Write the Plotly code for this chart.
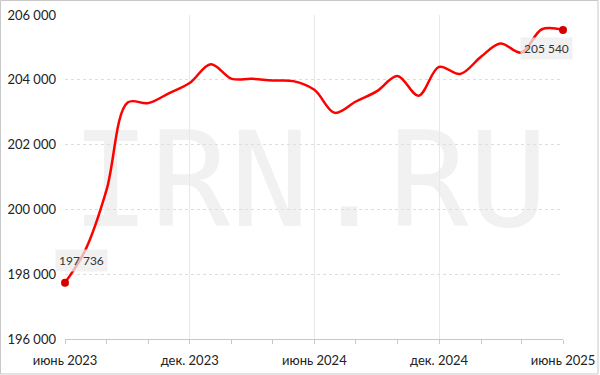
import plotly.graph_objects as go

months = ["2023-06-01", "2023-07-01", "2023-08-01", "2023-09-01", "2023-10-01", "2023-11-01",
          "2023-12-01", "2024-01-01", "2024-02-01", "2024-03-01", "2024-04-01", "2024-05-01",
          "2024-06-01", "2024-07-01", "2024-08-01", "2024-09-01", "2024-10-01", "2024-11-01",
          "2024-12-01", "2025-01-01", "2025-02-01", "2025-03-01", "2025-04-01", "2025-05-01",
          "2025-06-01"]
values = [197736, 198750, 200600, 203300, 203280, 203590,
          203900, 204480, 204030, 204030, 203980, 203960,
          203690, 202980, 203330, 203650, 204120, 203510,
          204400, 204180, 204720, 205120, 204840, 205560,
          205540]
tick_dates = ["2023-06-01", "2023-12-01", "2024-06-01", "2024-12-01", "2025-06-01"]
tick_labels = ["июнь 2023", "дек. 2023", "июнь 2024", "дек. 2024", "июнь 2025"]
y_ticks = [196000, 198000, 200000, 202000, 204000, 206000]
y_labels = ["196 000", "198 000", "200 000", "202 000", "204 000", "206 000"]

W, H = 600, 375
ML, MR, MT, MB = 65, 37, 15, 36
PW, PH = W - ML - MR, H - MT - MB

def px_x(p):
    return (p - ML) / PW

def px_y(p):
    return (H - MB - p) / PH

fig = go.Figure()
fig.add_trace(go.Scatter(
    x=months, y=values, mode="lines",
    line=dict(color="#ff0000", width=2.5, shape="spline", smoothing=1.0),
    hoverinfo="skip", showlegend=False, cliponaxis=False,
))
fig.add_trace(go.Scatter(
    x=[months[0], months[-1]], y=[values[0], values[-1]], mode="markers",
    marker=dict(color="#d40000", size=8),
    hoverinfo="skip", showlegend=False, cliponaxis=False,
))

def fmt(v):
    return f"{v:,}".replace(",", " ")

fig.add_annotation(x=months[0], y=values[0], text=fmt(values[0]), showarrow=False,
                   xanchor="left", yanchor="bottom", xshift=-10, yshift=11,
                   bgcolor="rgba(236,236,236,0.75)", borderpad=3,
                   font=dict(family="Lato", size=12, color="#333333"))
fig.add_annotation(x=months[-1], y=values[-1], text=fmt(values[-1]), showarrow=False,
                   xanchor="right", yanchor="top", xshift=10, yshift=-7,
                   bgcolor="rgba(236,236,236,0.75)", borderpad=3,
                   font=dict(family="Lato", size=12, color="#333333"))

# watermark below gridlines
fig.add_shape(type="rect", xref="paper", yref="paper",
              x0=px_x(57), x1=px_x(562), y0=px_y(246), y1=px_y(96),
              line=dict(width=0), fillcolor="rgba(0,0,0,0)", layer="below",
              label=dict(text="IRN.RU", textposition="middle center",
                         font=dict(family="DejaVu Sans Mono", size=132, color="#f1f1f1")))
# outer frame
fig.add_shape(type="rect", xref="paper", yref="paper",
              x0=px_x(0.5), x1=px_x(598), y0=px_y(374), y1=px_y(0.5),
              line=dict(width=1, color="#c8c8c8"), fillcolor="rgba(0,0,0,0)", layer="above")

fig.update_layout(
    width=W, height=H,
    margin=dict(l=ML, r=MR, t=MT, b=MB, autoexpand=False),
    paper_bgcolor="white", plot_bgcolor="white",
    font=dict(family="Lato", size=13, color="#222222"),
)
fig.update_xaxes(
    type="date", range=[months[0], months[-1]], automargin=False,
    tickvals=tick_dates, ticktext=tick_labels,
    showgrid=True, gridcolor="#e8e8e8", gridwidth=1,
    showline=True, linecolor="#c8c8c8", linewidth=1,
    ticks="outside", ticklen=4, tickcolor="#c8c8c8", zeroline=False,
    ticklabelstandoff=5,
    tickfont=dict(family="Lato", size=13, color="#222222"),
    minor=dict(dtick="M2", tick0="2023-06-01", ticks="outside", ticklen=4,
               tickcolor="#c8c8c8", showgrid=False),
)
fig.update_yaxes(
    range=[196000, 206000], tickvals=y_ticks, ticktext=y_labels, automargin=False,
    showgrid=True, gridcolor="#dedede", griddash="3px,3px", gridwidth=1,
    showline=False, zeroline=False, ticks="",
    ticklabelstandoff=8,
    tickfont=dict(family="Lato", size=13, color="#222222"),
)

fig.write_html("out.html")
